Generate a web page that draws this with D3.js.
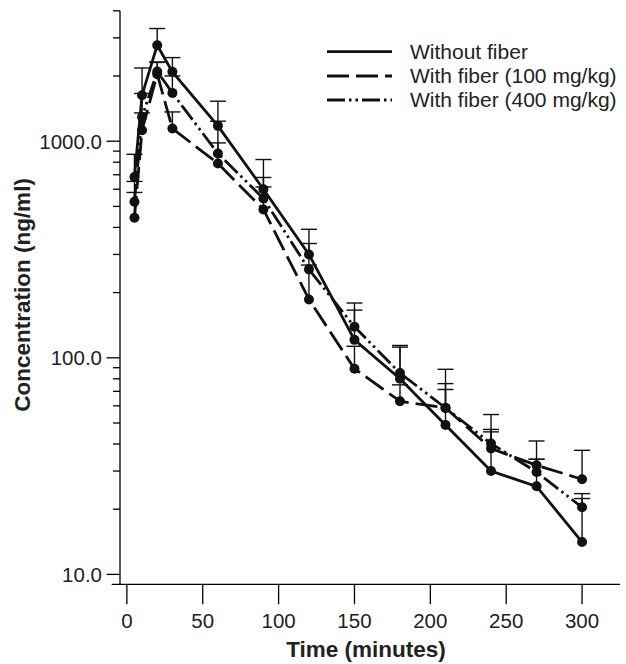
<!DOCTYPE html>
<html>
<head>
<meta charset="utf-8">
<script src="https://cdn.jsdelivr.net/npm/d3@7"></script>
<style>
  html, body { margin: 0; padding: 0; background: #fff; }
  svg { display: block; font-family: "Liberation Sans", Arial, Helvetica, sans-serif; }
</style>
</head>
<body>
<svg id="chart" width="626" height="664"></svg>
<script>
// ---- Data ----
const times = [5, 10, 20, 30, 60, 90, 120, 150, 180, 210, 240, 270, 300];

const withoutFiber   = [684, 1631, 2775, 2090, 1177, 600, 300, 121, 80, 49, 30, 25.5, 14.1];
const withoutFiberSD = [186, 547, 538, 342, 353, 223, 92, 45, 32, 22.4, 15.5, 8.5, 8.3];

const fiber100   = [443, 1124, 2040, 1145, 789, 484, 186, 89, 63, 58.7, 38.1, 31.9, 27.5];
const fiber100SD = [137, 227, 270, 220, 193, 131, 82, 24, 12, 17.3, 8.6, 9.4, 9.9];

const fiber400   = [525, 1295, 2100, 1671, 877, 544, 256, 139, 85, 58.7, 40.2, 29.7, 20.4];
const fiber400SD = [127, 366, 223, 330, 360, 136, 81, 40, 29, 29.8, 14.5, 4.3, 3.2];

const xTicks = [0, 50, 100, 150, 200, 250, 300];
const yMajorTicks = [10, 100, 1000];
const yTickLabels = ["10.0", "100.0", "1000.0"];
const yMinorTicks = [20, 30, 40, 50, 60, 70, 80, 90, 200, 300, 400, 500, 600, 700, 800, 900, 2000, 3000, 4000];

const seriesNames = ["Without fiber", "With fiber (100 mg/kg)", "With fiber (400 mg/kg)"];

// ---- Setup ----
const svg = d3.select("#chart");
const x = d3.scaleLinear().domain([-10, 325]).range([111.7, 620]);
const y = d3.scaleLog().domain([9, 4000]).range([584.3, 10.8]);
const yAxisX = 120;
const xAxisY = 584.3;

const series = [
  { name: seriesNames[0], values: withoutFiber, sd: withoutFiberSD, dash: null },
  { name: seriesNames[1], values: fiber100, sd: fiber100SD, dash: "22,7" },
  { name: seriesNames[2], values: fiber400, sd: fiber400SD, dash: "18,4,2.5,4,2.5,4" }
];

// ---- Axes ----
const axisG = svg.append("g").attr("stroke", "#000").attr("stroke-width", 1.3);
// Y axis line
axisG.append("line").attr("x1", yAxisX).attr("x2", yAxisX).attr("y1", y(4000)).attr("y2", xAxisY);
// X axis line
axisG.append("line").attr("x1", x.range()[0]).attr("x2", x.range()[1]).attr("y1", xAxisY).attr("y2", xAxisY);

// Y major ticks
axisG.selectAll(".ymaj").data(yMajorTicks).join("line")
  .attr("x1", yAxisX - 13.5).attr("x2", yAxisX)
  .attr("y1", d => y(d)).attr("y2", d => y(d));
// Y minor ticks
axisG.selectAll(".ymin").data(yMinorTicks).join("line")
  .attr("x1", yAxisX - 7).attr("x2", yAxisX)
  .attr("y1", d => y(d)).attr("y2", d => y(d));
// X ticks
axisG.selectAll(".xt").data(xTicks).join("line")
  .attr("x1", d => x(d)).attr("x2", d => x(d))
  .attr("y1", xAxisY).attr("y2", xAxisY + 20);

// Tick labels
svg.append("g").selectAll("text").data(yMajorTicks).join("text")
  .attr("x", 102).attr("y", d => y(d) + 7.3)
  .attr("text-anchor", "end").attr("font-size", 20.5).attr("fill", "#222")
  .text((d, i) => yTickLabels[i]);

svg.append("g").selectAll("text").data(xTicks).join("text")
  .attr("x", d => x(d)).attr("y", 628)
  .attr("text-anchor", "middle").attr("font-size", 20.5).attr("fill", "#222")
  .text(d => d);

// Axis titles
svg.append("text")
  .attr("x", 366).attr("y", 657)
  .attr("text-anchor", "middle").attr("font-size", 22.5).attr("font-weight", "bold").attr("fill", "#222")
  .text("Time (minutes)");

svg.append("text")
  .attr("transform", "translate(30,295) rotate(-90)")
  .attr("text-anchor", "middle").attr("font-size", 22.5).attr("font-weight", "bold").attr("fill", "#222")
  .text("Concentration (ng/ml)");

// ---- Series ----
const line = d3.line().x((d, i) => x(times[i])).y(d => y(d));
const plotG = svg.append("g");

series.forEach(s => {
  // error bars (upper only)
  const eb = plotG.append("g").attr("stroke", "#111").attr("stroke-width", 1.4);
  s.values.forEach((v, i) => {
    const up = v + s.sd[i];
    eb.append("line").attr("x1", x(times[i])).attr("x2", x(times[i])).attr("y1", y(v)).attr("y2", y(up));
    eb.append("line").attr("x1", x(times[i]) - 8).attr("x2", x(times[i]) + 8).attr("y1", y(up)).attr("y2", y(up));
  });
});

series.forEach(s => {
  plotG.append("path")
    .datum(s.values)
    .attr("d", line)
    .attr("fill", "none")
    .attr("stroke", "#111")
    .attr("stroke-width", 2.8)
    .attr("stroke-dasharray", s.dash);
});

series.forEach(s => {
  plotG.append("g").selectAll("circle").data(s.values).join("circle")
    .attr("cx", (d, i) => x(times[i])).attr("cy", d => y(d))
    .attr("r", 5).attr("fill", "#111");
});

// ---- Legend ----
const legendRows = [51.7, 76, 100];
const legend = svg.append("g");
series.forEach((s, i) => {
  legend.append("line")
    .attr("x1", 327).attr("x2", 392)
    .attr("y1", legendRows[i]).attr("y2", legendRows[i])
    .attr("stroke", "#111").attr("stroke-width", 2.8)
    .attr("stroke-dasharray", s.dash);
  legend.append("text")
    .attr("x", 410).attr("y", legendRows[i] + 7.3)
    .attr("font-size", 21).attr("fill", "#222")
    .text(s.name);
});
</script>
</body>
</html>
